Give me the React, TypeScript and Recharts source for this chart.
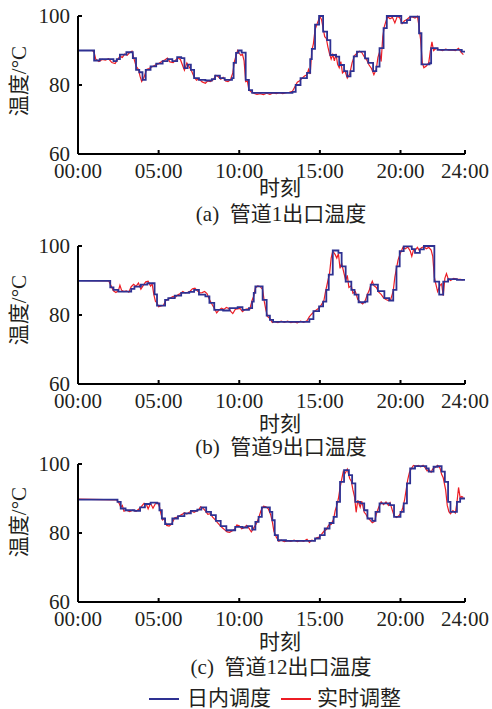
import React from 'react';
import { LineChart, Line, XAxis, YAxis } from 'recharts';

// hours (x) and temperature (y) ticks
const hourTicks = [0, 5, 10, 15, 20, 24];
const tempTicks = [60, 80, 100];

type Pts = [number, number][];

// 管道1 — day-ahead schedule (step) and real-time adjustment
const dayAheadA: Pts = [
  [0, 90], [1.0, 87.1], [1.35, 87.5], [2.2, 86.9], [2.4, 87.5], [2.6, 88.8], [3.0, 89.5], [3.4, 87.8],
  [3.6, 84.4], [3.8, 83.7], [4.0, 81.5], [4.2, 84.4], [4.5, 85.4], [4.85, 86.2], [5.25, 86.9], [5.55, 87.5],
  [5.85, 86.9], [6.15, 88.1], [6.4, 87.8], [6.6, 84.9], [6.8, 85.9], [7.0, 84.4], [7.2, 82], [7.5, 81.5],
  [7.9, 81.3], [8.3, 81.7], [8.5, 82.7], [8.8, 82], [9.1, 81.5], [9.55, 82], [9.65, 86.4], [9.8, 89.3],
  [9.95, 90], [10.15, 89.4], [10.4, 81.5], [10.6, 78.5], [10.8, 77.7], [13.3, 78], [13.5, 80], [13.8, 82],
  [14.2, 83.5], [14.4, 87.5], [14.5, 90.5], [14.7, 97.5], [14.95, 100], [15.2, 95.5], [15.45, 93],
  [15.65, 88.7], [16.0, 88.2], [16.2, 85.8], [16.5, 84], [16.7, 82.5], [16.9, 84], [17.1, 88.3],
  [17.3, 89.7], [17.8, 87.7], [18.0, 86.4], [18.3, 84], [18.5, 85.3], [18.7, 90.7], [18.95, 96.5],
  [19.15, 100], [20.05, 98], [20.4, 98.8], [20.6, 99.8], [21.15, 95], [21.3, 86], [21.8, 86.3],
  [21.9, 90.7], [22.3, 90.2], [23.8, 89.7], [24, 89.7],
];
const realTimeA: Pts = [
  [0, 90], [0.9, 90], [1.0, 89.5], [1.1, 87.5], [1.3, 86.8], [1.5, 87.4], [1.7, 87.2], [1.9, 87.6],
  [2.1, 86.5], [2.3, 86.2], [2.45, 87.3], [2.6, 88.3], [2.75, 88.0], [2.9, 89.0], [3.05, 88.6], [3.2, 89.4],
  [3.35, 89.8], [3.45, 88.0], [3.6, 85.5], [3.75, 84.5], [3.85, 82.5], [3.95, 81.0], [4.1, 82.3], [4.25, 84.5],
  [4.4, 84.8], [4.6, 85.3], [4.8, 85.8], [5.0, 86.2], [5.2, 86.8], [5.4, 87.3], [5.55, 87.8], [5.7, 86.7],
  [5.9, 86.5], [6.05, 87.2], [6.2, 87.9], [6.35, 87.4], [6.5, 85.5], [6.6, 84.3], [6.75, 86.4], [6.9, 85.2],
  [7.05, 84.0], [7.2, 82.3], [7.35, 81.4], [7.5, 81.8], [7.7, 80.9], [7.9, 80.5], [8.05, 81.2], [8.2, 81.0],
  [8.4, 81.6], [8.55, 82.8], [8.7, 82.4], [8.85, 81.7], [9.0, 82.2], [9.15, 81.2], [9.3, 81.0], [9.45, 81.5],
  [9.6, 83.5], [9.7, 86.8], [9.8, 88.5], [9.9, 90.0], [10.0, 89.2], [10.1, 88.6], [10.2, 88.9], [10.3, 87.0],
  [10.4, 81.0], [10.5, 81.2], [10.6, 78.6], [10.75, 78.0], [10.9, 77.6], [11.1, 77.3], [11.3, 77.5],
  [11.5, 77.2], [11.7, 77.6], [11.9, 77.3], [12.1, 77.7], [12.3, 77.5], [12.5, 77.8], [12.7, 77.5],
  [12.9, 77.8], [13.1, 77.9], [13.3, 78.2], [13.45, 79.5], [13.6, 80.8], [13.75, 81.2], [13.9, 82.0],
  [14.05, 82.6], [14.2, 83.0], [14.3, 84.5], [14.4, 83.2], [14.5, 90.0], [14.6, 92.0], [14.7, 96.0],
  [14.85, 98.0], [15.0, 99.8], [15.1, 99.0], [15.2, 96.5], [15.3, 94.0], [15.4, 93.5], [15.5, 91.0],
  [15.6, 89.0], [15.7, 87.5], [15.8, 88.8], [15.9, 87.0], [16.0, 89.0], [16.1, 86.0], [16.2, 85.0],
  [16.3, 86.8], [16.4, 83.5], [16.55, 84.2], [16.7, 82.0], [16.85, 83.2], [17.0, 86.5], [17.15, 88.5],
  [17.3, 89.2], [17.45, 89.8], [17.6, 89.4], [17.75, 88.2], [17.9, 87.3], [18.05, 85.8], [18.2, 84.8],
  [18.35, 83.0], [18.5, 84.6], [18.6, 88.0], [18.7, 89.5], [18.8, 86.8], [18.9, 94.0], [19.0, 97.0],
  [19.1, 98.5], [19.2, 99.8], [19.35, 99.2], [19.5, 99.6], [19.65, 98.0], [19.8, 99.9], [19.95, 99.5],
  [20.1, 97.8], [20.25, 98.6], [20.4, 99.0], [20.55, 99.6], [20.7, 99.8], [20.9, 99.4], [21.05, 99.9],
  [21.15, 97.0], [21.25, 93.0], [21.35, 86.5], [21.45, 85.0], [21.6, 85.5], [21.75, 86.4], [21.85, 89.8],
  [21.95, 92.5], [22.05, 90.0], [22.2, 90.6], [22.4, 90.3], [22.6, 90.0], [22.8, 90.4], [23.0, 90.1],
  [23.2, 90.2], [23.4, 90.0], [23.6, 90.6], [23.75, 89.5], [23.9, 88.8],
];

// 管道9
const dayAheadB: Pts = [
  [0, 89.9], [2.0, 88.0], [2.2, 87.3], [2.5, 86.8], [3.3, 87.6], [3.5, 88.2], [3.9, 88.8], [4.3, 89.2],
  [4.75, 86], [4.9, 82.7], [5.4, 84.4], [5.6, 84.9], [6.0, 85.6], [6.4, 86.4], [6.9, 86.7], [7.2, 87.3],
  [7.5, 85.9], [7.9, 85.4], [8.15, 83.5], [8.45, 81.5], [9.0, 81.3], [9.4, 82], [9.9, 82.3], [10.2, 81.5],
  [10.6, 82], [10.8, 83.9], [10.9, 86.4], [11.0, 88.3], [11.45, 84.4], [11.7, 79.8], [11.9, 78.6],
  [12.1, 78], [14.35, 78.8], [14.6, 81.1], [14.95, 82.5], [15.2, 83.9], [15.4, 87.3], [15.55, 91.7],
  [15.8, 98.7], [16.15, 98], [16.35, 94.1], [16.6, 89.7], [16.95, 87.3], [17.15, 85.9], [17.4, 83.7],
  [17.8, 83.9], [17.95, 85.9], [18.15, 88.8], [18.6, 86.9], [19.0, 84.9], [19.3, 84.2], [19.55, 87.3],
  [19.75, 94.1], [19.95, 98.5], [20.2, 99.9], [20.7, 99.1], [20.9, 98], [21.2, 99], [21.45, 100],
  [22.1, 89.7], [22.4, 85.9], [22.65, 89.7], [22.95, 90.4], [23.5, 90.2], [24, 90.2],
];
const realTimeB: Pts = [
  [0, 90], [1.9, 89.9], [2.05, 88.5], [2.2, 87.0], [2.35, 86.5], [2.5, 87.0], [2.6, 88.6], [2.7, 87.2],
  [2.85, 86.8], [3.0, 87.0], [3.15, 86.6], [3.3, 88.2], [3.45, 88.9], [3.6, 88.3], [3.75, 89.3], [3.9, 87.5],
  [4.05, 88.6], [4.2, 89.6], [4.35, 89.8], [4.5, 88.4], [4.6, 89.0], [4.7, 86.0], [4.8, 84.0], [4.9, 83.5],
  [5.0, 82.4], [5.15, 82.6], [5.3, 82.8], [5.45, 84.2], [5.6, 84.6], [5.75, 85.0], [5.9, 85.4], [6.05, 85.2],
  [6.2, 85.9], [6.35, 86.2], [6.5, 86.8], [6.65, 86.4], [6.8, 86.6], [6.95, 86.9], [7.1, 87.6], [7.25, 87.8],
  [7.4, 87.0], [7.55, 86.4], [7.7, 86.5], [7.85, 86.8], [8.0, 86.2], [8.15, 84.5], [8.3, 83.2], [8.45, 82.0],
  [8.6, 80.6], [8.75, 81.5], [8.9, 82.0], [9.05, 81.6], [9.2, 82.2], [9.35, 81.9], [9.5, 80.9], [9.6, 80.4],
  [9.75, 81.6], [9.9, 81.8], [10.05, 81.9], [10.2, 81.0], [10.35, 81.6], [10.5, 81.8], [10.65, 81.6],
  [10.8, 84.3], [10.9, 85.5], [11.0, 87.8], [11.15, 88.4], [11.3, 88.2], [11.45, 87.4], [11.55, 84.0],
  [11.65, 81.5], [11.75, 79.6], [11.9, 79.0], [12.05, 77.8], [12.2, 78.1], [12.4, 77.8], [12.6, 78.2],
  [12.8, 77.9], [13.0, 78.2], [13.2, 77.8], [13.4, 78.0], [13.6, 77.7], [13.8, 78.2], [14.0, 77.9],
  [14.2, 78.3], [14.35, 79.5], [14.5, 80.3], [14.65, 81.0], [14.8, 81.5], [14.95, 82.0], [15.1, 83.0],
  [15.25, 84.2], [15.35, 86.8], [15.5, 90.0], [15.6, 92.0], [15.7, 96.5], [15.8, 98.5], [15.95, 97.5],
  [16.05, 96.5], [16.15, 97.8], [16.25, 93.5], [16.35, 95.0], [16.5, 92.0], [16.6, 90.0], [16.7, 91.5],
  [16.8, 88.0], [16.95, 88.5], [17.05, 86.3], [17.2, 86.8], [17.35, 84.5], [17.5, 83.8], [17.65, 83.2],
  [17.8, 84.0], [17.95, 86.0], [18.05, 87.0], [18.15, 88.6], [18.25, 89.8], [18.35, 88.5], [18.5, 88.0],
  [18.65, 86.6], [18.8, 86.0], [18.95, 85.0], [19.1, 84.5], [19.25, 84.2], [19.4, 84.6], [19.55, 87.0],
  [19.65, 91.0], [19.75, 93.5], [19.85, 96.0], [20.0, 98.0], [20.15, 99.6], [20.3, 99.2], [20.45, 99.7],
  [20.6, 98.6], [20.7, 97.0], [20.8, 98.8], [20.95, 99.0], [21.05, 99.6], [21.15, 98.8], [21.3, 99.5],
  [21.45, 99.8], [21.6, 99.2], [21.75, 99.6], [21.9, 98.8], [22.0, 97.0], [22.1, 91.0], [22.2, 88.8],
  [22.3, 86.8], [22.45, 88.6], [22.55, 89.0], [22.65, 85.6], [22.75, 90.6], [22.85, 92.0], [22.95, 90.6],
  [23.1, 90.0], [23.3, 90.6], [23.5, 90.4], [23.7, 90.3], [23.9, 90.2],
];

// 管道12
const dayAheadC: Pts = [
  [0, 89.7], [2.45, 89.0], [2.65, 87.1], [2.95, 86.6], [3.5, 86.4], [3.85, 87.4], [4.15, 88.4], [4.5, 88.8],
  [4.9, 88.6], [5.05, 86.6], [5.2, 84.2], [5.4, 82.6], [5.85, 84.2], [6.2, 84.9], [6.6, 85.7], [7.0, 86.4],
  [7.4, 86.8], [7.65, 87.4], [7.95, 86.1], [8.25, 85.2], [8.55, 83.5], [8.85, 82], [9.2, 80.8], [9.75, 81.8],
  [10.2, 81.6], [10.5, 82], [10.8, 81], [11.0, 83.2], [11.2, 84.7], [11.4, 87.4], [11.9, 86.1], [12.05, 83.7],
  [12.2, 79.4], [12.4, 77.9], [12.9, 77.7], [14.7, 78.4], [15.0, 79.4], [15.3, 81.3], [15.6, 82.9],
  [15.85, 84.7], [16.05, 89], [16.25, 94.8], [16.5, 98.2], [16.8, 96.8], [17.0, 94.4], [17.2, 89],
  [17.5, 88.6], [17.75, 86.6], [17.95, 84.2], [18.25, 83.5], [18.45, 86.1], [18.7, 88.6], [19.35, 88.1],
  [19.6, 84.7], [20.0, 86.1], [20.2, 88.6], [20.4, 94.4], [20.6, 98.7], [20.9, 99.4], [21.6, 98.7],
  [21.75, 97.8], [22.05, 99.2], [22.3, 99.4], [22.55, 97.8], [22.75, 94.8], [22.95, 89], [23.1, 86.1],
  [23.5, 89], [23.7, 90], [24, 90],
];
const realTimeC: Pts = [
  [0, 89.8], [2.4, 89.6], [2.55, 88.6], [2.65, 87.5], [2.75, 88.0], [2.85, 86.3], [3.0, 86.6], [3.2, 86.2],
  [3.4, 86.6], [3.6, 86.3], [3.8, 87.0], [3.95, 87.8], [4.1, 88.6], [4.25, 88.2], [4.35, 87.0], [4.5, 88.6],
  [4.65, 87.2], [4.8, 88.5], [4.95, 88.8], [5.05, 87.6], [5.15, 85.5], [5.25, 83.8], [5.35, 84.2],
  [5.5, 82.2], [5.65, 82.0], [5.8, 82.6], [5.9, 83.5], [6.0, 84.4], [6.15, 84.6], [6.3, 85.0], [6.45, 85.4],
  [6.6, 85.9], [6.75, 85.5], [6.9, 86.0], [7.05, 86.3], [7.2, 86.0], [7.35, 86.4], [7.5, 86.8], [7.6, 87.6],
  [7.75, 87.2], [7.9, 86.4], [8.05, 85.4], [8.2, 85.6], [8.35, 84.6], [8.5, 83.9], [8.65, 83.0], [8.8, 82.2],
  [8.95, 81.5], [9.1, 80.9], [9.25, 80.3], [9.4, 80.2], [9.55, 80.6], [9.7, 81.0], [9.85, 82.3], [10.0, 82.1],
  [10.15, 81.2], [10.3, 81.5], [10.45, 82.2], [10.6, 81.4], [10.75, 80.3], [10.9, 81.5], [11.05, 82.6],
  [11.2, 84.3], [11.35, 86.5], [11.5, 87.8], [11.65, 87.6], [11.8, 87.0], [11.95, 85.3], [12.05, 83.3],
  [12.15, 80.5], [12.3, 78.8], [12.45, 77.6], [12.6, 77.9], [12.8, 77.5], [13.0, 77.8], [13.2, 77.6],
  [13.4, 77.9], [13.6, 77.5], [13.8, 77.8], [14.0, 77.6], [14.2, 78.2], [14.35, 77.3], [14.5, 77.9],
  [14.65, 77.7], [14.8, 78.6], [14.95, 78.8], [15.1, 79.6], [15.25, 80.5], [15.4, 81.0], [15.55, 82.3],
  [15.7, 82.5], [15.85, 84.0], [15.95, 86.5], [16.05, 88.0], [16.15, 90.0], [16.25, 93.0], [16.35, 95.5],
  [16.45, 97.8], [16.55, 97.2], [16.7, 98.5], [16.85, 95.8], [16.95, 95.0], [17.05, 92.5], [17.15, 90.5],
  [17.25, 86.0], [17.35, 89.5], [17.5, 87.5], [17.6, 89.2], [17.75, 86.0], [17.85, 85.5], [17.95, 84.5],
  [18.1, 83.8], [18.25, 83.0], [18.4, 83.4], [18.5, 85.5], [18.65, 87.5], [18.8, 89.0], [18.95, 88.2],
  [19.1, 89.0], [19.25, 88.0], [19.35, 88.8], [19.5, 86.5], [19.6, 85.0], [19.75, 84.5], [19.9, 85.0],
  [20.05, 86.0], [20.15, 87.5], [20.25, 89.5], [20.35, 92.5], [20.45, 95.5], [20.55, 97.5], [20.65, 98.5],
  [20.8, 99.6], [20.95, 99.3], [21.1, 99.6], [21.25, 99.2], [21.4, 99.6], [21.55, 98.8], [21.65, 98.0],
  [21.75, 98.4], [21.9, 97.6], [22.0, 98.6], [22.15, 99.0], [22.3, 99.6], [22.45, 98.8], [22.55, 97.0],
  [22.65, 96.0], [22.8, 92.5], [22.9, 88.0], [23.0, 86.2], [23.1, 85.6], [23.25, 86.5], [23.4, 85.8],
  [23.5, 88.8], [23.6, 93.2], [23.7, 90.2], [23.8, 90.6], [23.9, 90.3],
];

const seriesNames = ['日内调度', '实时调整'];
const captions = ['(a)  管道1出口温度', '(b)  管道9出口温度', '(c)  管道12出口温度'];

const BLUE = '#2e3192';
const RED = '#ed1c24';
const INK = '#231f20';
const FONT = '"Liberation Serif", "Times New Roman", "Noto Sans CJK SC", serif';

const rows = (p: Pts) => p.map(([t, v]) => ({ t, v }));
const hh = (h: number) => `${String(h).padStart(2, '0')}:00`;

const PLOT_H = 138;
const PAD_TOP = 16;

function Panel({ plotTop, blue, red }: { plotTop: number; blue: Pts; red: Pts }) {
  const tickStyle = { fill: INK, fontSize: 21, fontFamily: FONT };
  return (
    <div style={{ position: 'absolute', left: 0, top: plotTop - PAD_TOP }}>
      <LineChart width={492} height={PAD_TOP + PLOT_H + 40} margin={{ top: PAD_TOP, right: 27, bottom: 0, left: 0 }}>
        <XAxis
          type="number"
          dataKey="t"
          domain={[0, 24]}
          ticks={hourTicks}
          tickFormatter={hh}
          interval={0}
          height={40}
          tickSize={-4}
          tickMargin={13}
          stroke="#000"
          strokeWidth={2}
          tick={tickStyle}
        />
        <YAxis
          type="number"
          dataKey="v"
          domain={[60, 100]}
          ticks={tempTicks}
          interval={0}
          width={78}
          tickSize={-4}
          tickMargin={12}
          stroke="#000"
          strokeWidth={2}
          tick={tickStyle}
        />
        <Line data={rows(red)} dataKey="v" type="linear" stroke={RED} strokeWidth={1.2} dot={false} isAnimationActive={false} />
        <Line data={rows(blue)} dataKey="v" type="stepAfter" stroke={BLUE} strokeWidth={1.8} dot={false} isAnimationActive={false} />
      </LineChart>
    </div>
  );
}

function Text({ x, y, children, size = 21, rotate = false }: { x: number; y: number; children: React.ReactNode; size?: number; rotate?: boolean }) {
  return (
    <div
      style={{
        position: 'absolute',
        left: x,
        top: y,
        transform: `translate(-50%, -50%)${rotate ? ' rotate(-90deg)' : ''}`,
        fontFamily: FONT,
        fontSize: size,
        lineHeight: '24px',
        color: INK,
        whiteSpace: 'pre',
      }}
    >
      {children}
    </div>
  );
}

export default function App() {
  const panels = [
    { plotTop: 16, blue: dayAheadA, red: realTimeA, yLab: 81, xLab: 188, cap: 214 },
    { plotTop: 246, blue: dayAheadB, red: realTimeB, yLab: 310, xLab: 424, cap: 447 },
    { plotTop: 464, blue: dayAheadC, red: realTimeC, yLab: 522, xLab: 642, cap: 667 },
  ];
  const legendText = { position: 'absolute' as const, top: 688, fontFamily: FONT, fontSize: 21, lineHeight: '21px', color: INK };
  return (
    <div style={{ position: 'absolute', left: 0, top: 0, width: 492, height: 709, background: '#fff', overflow: 'hidden' }}>
      {panels.map((p, i) => (
        <React.Fragment key={i}>
          <Panel plotTop={p.plotTop} blue={p.blue} red={p.red} />
          <Text x={19} y={p.yLab} rotate>温度/°C</Text>
          <Text x={280} y={p.xLab}>时刻</Text>
          <Text x={281} y={p.cap}>{captions[i]}</Text>
        </React.Fragment>
      ))}
      <div style={{ position: 'absolute', left: 149, top: 698, width: 30, height: 2, background: BLUE }} />
      <div style={{ ...legendText, left: 187 }}>{seriesNames[0]}</div>
      <div style={{ position: 'absolute', left: 281, top: 698, width: 30, height: 2, background: RED }} />
      <div style={{ ...legendText, left: 317 }}>{seriesNames[1]}</div>
    </div>
  );
}
